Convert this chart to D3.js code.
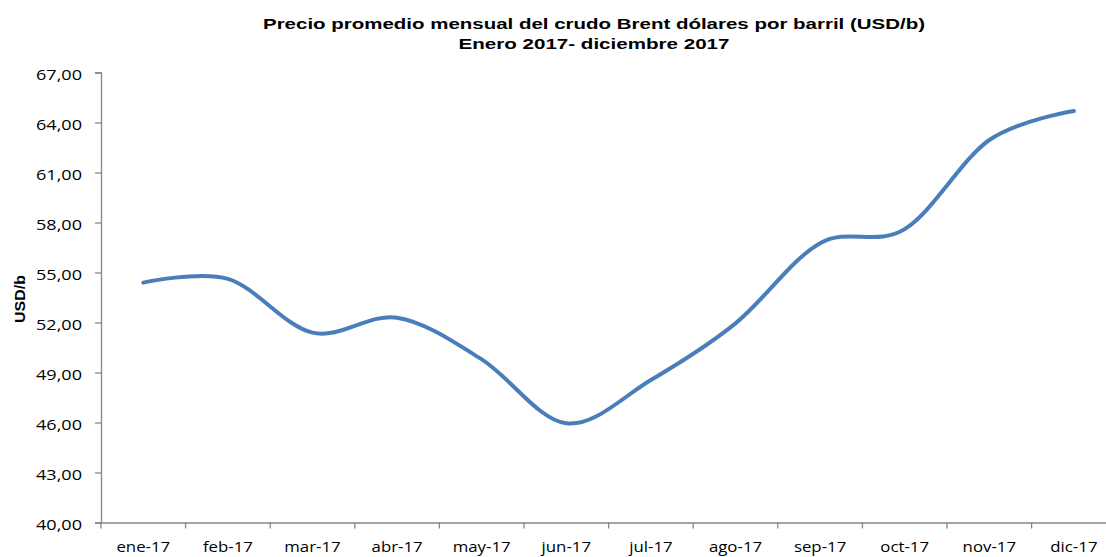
<!DOCTYPE html>
<html><head><meta charset="utf-8">
<script src="https://cdn.jsdelivr.net/npm/d3@7"></script>
<style>body{margin:0;background:#fff}svg{display:block}</style>
</head><body>
<svg id="c" width="1106" height="557"></svg>
<script>
const categories = ["ene-17","feb-17","mar-17","abr-17","may-17","jun-17","jul-17","ago-17","sep-17","oct-17","nov-17","dic-17"];
const brentValues = [54.39, 54.62, 51.39, 52.29, 49.79, 45.95, 48.55, 51.95, 56.76, 57.60, 62.95, 64.69];
const yTicks = [40,43,46,49,52,55,58,61,64,67];
const titleLines = ["Precio promedio mensual del crudo Brent dólares por barril (USD/b)","Enero 2017- diciembre 2017"];
const yAxisTitle = "USD/b";

const svg = d3.select("#c");
const mLeft = 101, mRight = 1116.2, mTop = 72.5, mBottom = 522.5;
const x = d3.scaleBand().domain(categories).range([mLeft, mRight]);
const y = d3.scaleLinear().domain([40, 67]).range([mBottom, mTop]);
const axisColor = "#868686";
const fmt = v => d3.format(".2f")(v).replace(".", ",");

// Title
const tg = svg.append("g").attr("font-family", "Liberation Sans, Arial, sans-serif").attr("font-weight", "bold").attr("font-size", 15).attr("fill", "#000");
const tWidths = [662, 271];
titleLines.forEach((t, i) => {
  tg.append("text").attr("x", 594).attr("y", 29 + i * 19.5).attr("text-anchor", "middle")
    .attr("textLength", tWidths[i]).attr("lengthAdjust", "spacingAndGlyphs").text(t);
});

// Y axis
const yAxis = svg.append("g").attr("transform", `translate(${mLeft},0)`)
  .call(d3.axisLeft(y).tickValues(yTicks).tickFormat(fmt).tickSize(6).tickPadding(13));
yAxis.select(".domain").attr("stroke", axisColor).attr("stroke-width", 1.3);
yAxis.selectAll(".tick line").attr("stroke", axisColor).attr("stroke-width", 1.3);
yAxis.selectAll(".tick text").attr("font-family", "Open Sans, sans-serif").attr("font-size", 14).attr("fill", "#000")
  .attr("dy", "0.5em").attr("textLength", 46).attr("lengthAdjust", "spacingAndGlyphs");

// X axis
const xAxis = svg.append("g").attr("transform", `translate(0,${mBottom})`)
  .call(d3.axisBottom(x).tickSize(0).tickPadding(20));
xAxis.select(".domain").attr("stroke", axisColor).attr("stroke-width", 1.3);
xAxis.selectAll(".tick text").attr("font-family", "Open Sans, sans-serif").attr("font-size", 14).attr("fill", "#000")
  .each(function(){ const w = this.getComputedTextLength(); d3.select(this).attr("textLength", w * 1.2).attr("lengthAdjust", "spacingAndGlyphs"); });
// boundary tick marks between categories
const bounds = categories.map(c => x(c)).concat([mRight]);
svg.append("g").selectAll("line").data(bounds).join("line")
  .attr("x1", d => d).attr("x2", d => d).attr("y1", mBottom).attr("y2", mBottom + 6)
  .attr("stroke", axisColor).attr("stroke-width", 1.3);

// Y axis title
svg.append("text").attr("transform", "translate(25,299) rotate(-90)").attr("text-anchor", "middle")
  .attr("font-family", "Liberation Sans, Arial, sans-serif").attr("font-weight", "bold").attr("font-size", 14)
  .attr("textLength", 48).attr("lengthAdjust", "spacingAndGlyphs").text(yAxisTitle);

// Line
const line = d3.line().x((d, i) => x(categories[i]) + x.bandwidth() / 2).y(d => y(d)).curve(d3.curveCatmullRom.alpha(0));
svg.append("path").datum(brentValues).attr("d", line).attr("fill", "none")
  .attr("stroke", "#4a7ebb").attr("stroke-width", 4).attr("stroke-linecap", "round").attr("stroke-linejoin", "round");
</script>
</body></html>
